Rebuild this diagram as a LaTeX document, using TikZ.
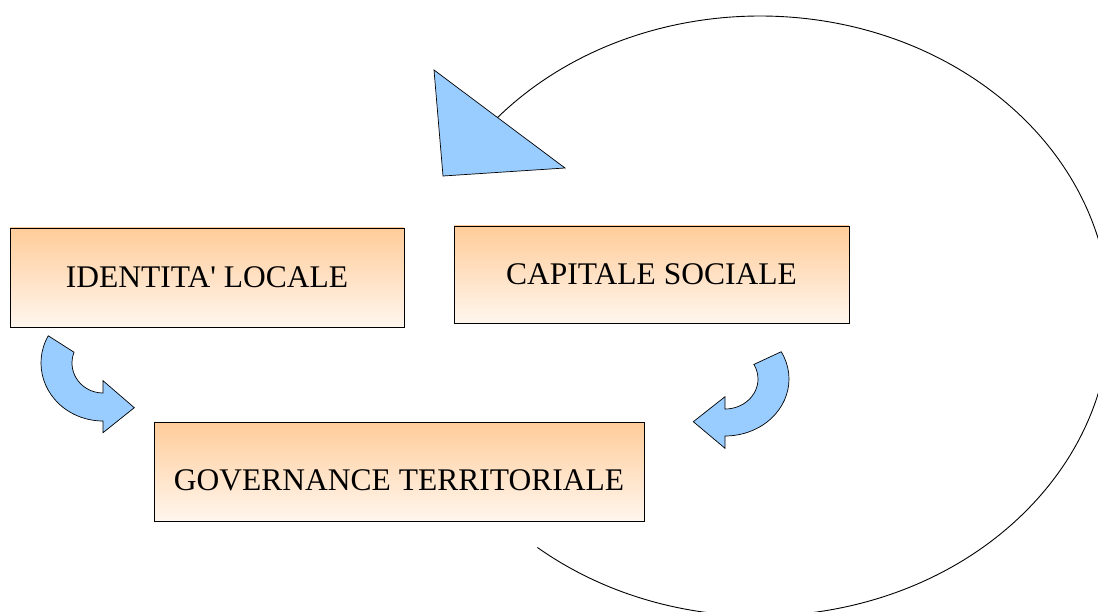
\documentclass[tikz,border=0pt]{standalone}
\usepackage{fontspec}
\setmainfont{Liberation Serif}
\usetikzlibrary{calc}
\definecolor{boxtop}{HTML}{FFCC99}
\definecolor{boxbot}{HTML}{FFF6EE}
\definecolor{arrowblue}{HTML}{99CCFF}
\begin{document}
\begin{tikzpicture}[x=1pt, y=1pt,
  box/.style={draw=black, line width=0.8pt, top color=boxtop, bottom color=boxbot,
    rectangle, inner sep=0pt},
  boxtext/.style={font=\fontsize{31.5}{36}\selectfont, inner sep=0pt},
  bluearrow/.style={draw=black, line width=0.7pt, fill=arrowblue, line join=miter},
  loop/.style={draw=black, line width=0.9pt}]
\useasboundingbox (0,0) rectangle (1098,-612);
\clip (0,0) rectangle (1098,-612);

% the three boxes
\node[box, minimum width=394pt, minimum height=99pt] (idbox) at (207,-277.5) {};
\node[boxtext] (idtext) at (idbox.center) {IDENTITA\textquotesingle{} LOCALE};
\node[box, minimum width=395pt, minimum height=97pt] (capbox) at (651.5,-274.5) {};
\node[boxtext] (captext) at (capbox.center) {CAPITALE SOCIALE};
\node[box, minimum width=490pt, minimum height=99pt] (govbox) at (399,-471.5) {};
\node[boxtext] (govtext) at ([yshift=-9pt]govbox.center) {GOVERNANCE TERRITORIALE};

% curved arrow from the left box down to the governance box
\coordinate (lc) at (103,-363);
\path[bluearrow] ($(lc)+(152:62pt and 58pt)$)
  arc[start angle=152, end angle=270, x radius=62pt, y radius=58pt]
  -- (103,-432.7) -- (134.3,-407.7) -- (103,-380.7)
  -- ($(lc)+(270:31pt and 30pt)$)
  arc[start angle=270, end angle=159, x radius=31pt, y radius=30pt] -- cycle;

% curved arrow from the right box down to the governance box
\coordinate (rc) at (725,-379);
\path[bluearrow] ($(rc)+(28.6:64pt and 57pt)$)
  arc[start angle=28.6, end angle=-90, x radius=64pt, y radius=57pt]
  -- (725,-448.3) -- (693.3,-421.7) -- (725,-396.7)
  -- ($(rc)+(-90:33pt and 30pt)$)
  arc[start angle=-90, end angle=29, x radius=33pt, y radius=30pt] -- cycle;

% large loop running round the right side, closed by a triangular head
\coordinate (ec) at (760,-316);
\draw[loop] (ec) ++(138.7:350pt and 300pt)
  arc[start angle=138.7, end angle=-129.5, x radius=350pt, y radius=300pt];
\coordinate (t1) at (434,-70);
\coordinate (t2) at (443,-176);
\coordinate (t3) at (565,-168);
\path[bluearrow] (t1) -- (t2) -- (t3) -- cycle;
\end{tikzpicture}
\end{document}
